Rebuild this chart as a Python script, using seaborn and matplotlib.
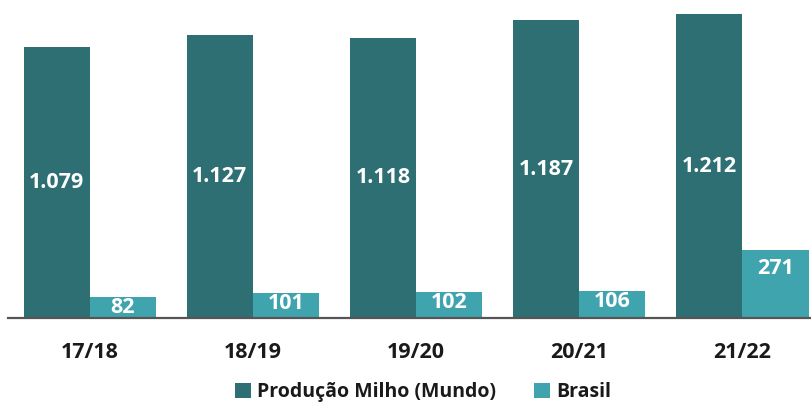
import matplotlib
matplotlib.use("Agg")
import matplotlib.pyplot as plt
import seaborn as sns
import pandas as pd
from matplotlib.patches import Patch

# Safras e produção de milho (milhões de toneladas)
safras = ["17/18", "18/19", "19/20", "20/21", "21/22"]
mundo = [1079, 1127, 1118, 1187, 1212]
brasil = [82, 101, 102, 106, 271]
series = ["Produção Milho (Mundo)", "Brasil"]
cores = ["#2e6f74", "#40a4ae"]

df = pd.DataFrame({
    "safra": safras * 2,
    "valor": mundo + brasil,
    "serie": [series[0]] * len(safras) + [series[1]] * len(safras),
})

sns.set_theme(style="white")
plt.rcParams["font.family"] = ["Open Sans", "DejaVu Sans"]

fig = plt.figure(figsize=(8.11, 4.05), dpi=100)
ax = fig.add_axes([8 / 811, 87 / 405, 803 / 811, 318 / 405])

sns.barplot(data=df, x="safra", y="valor", hue="serie", palette=cores,
            width=0.81, gap=0, saturation=1, legend=False, linewidth=0,
            edgecolor="none", ax=ax)

ax.set_xlim(-0.5, 4.42)
ax.set_ylim(0, 1268)

def fmt_mil(v):
    return f"{v:,.0f}".replace(",", ".")

# rótulos: mundo centralizado, Brasil próximo ao topo
for cont, vals in zip(ax.containers, [mundo, brasil]):
    if vals is mundo:
        ax.bar_label(cont, labels=[fmt_mil(v) for v in vals], label_type="center",
                     color="white", fontsize=15.5, fontweight="bold")
    else:
        for bar, v in zip(cont, vals):
            x = bar.get_x() + bar.get_width() / 2
            off = -7.5 if v < 200 else -13
            ax.annotate(str(v), (x, v), xytext=(0, off), textcoords="offset points",
                        ha="center", va="center", color="white",
                        fontsize=15.5, fontweight="bold")

sns.despine(ax=ax, left=True, top=True, right=True)
ax.spines["bottom"].set_color("#555555")
ax.spines["bottom"].set_linewidth(1.6)
ax.set_yticks([])
ax.set_xlabel("")
ax.set_ylabel("")
ax.tick_params(axis="x", length=0, pad=17)
for t in ax.get_xticklabels():
    t.set_fontsize(15.5)
    t.set_fontweight("bold")
    t.set_color("#1a1a1a")

handles = [Patch(facecolor=c, edgecolor="none") for c in cores]
leg = fig.legend(handles, series, loc="center", bbox_to_anchor=(423 / 811, 1 - 392 / 405),
                 ncol=2, frameon=False, handlelength=0.8, handleheight=0.8,
                 handletextpad=0.3, columnspacing=2.0, fontsize=14)
for t in leg.get_texts():
    t.set_color("#1a1a1a")
    t.set_fontweight("bold")

fig.savefig("out.png", dpi=100, facecolor="white")
